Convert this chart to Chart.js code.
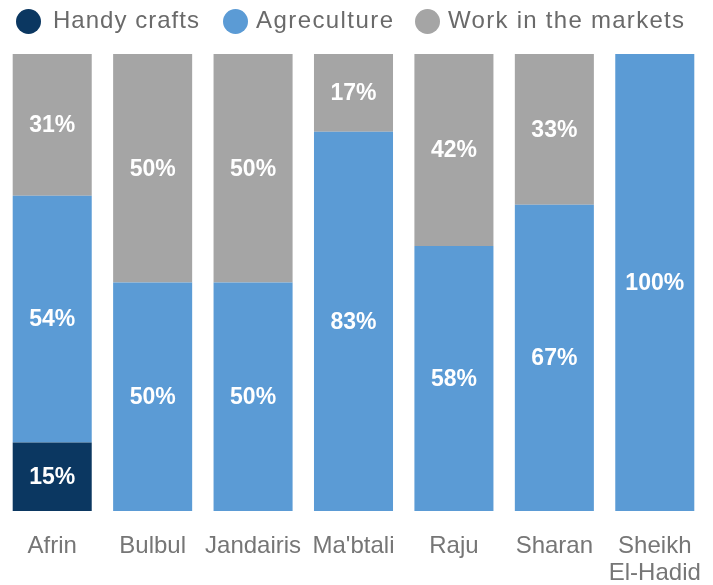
<!DOCTYPE html>
<html>
<head>
<meta charset="utf-8">
<script src="https://cdn.jsdelivr.net/npm/chart.js@4.4.1/dist/chart.umd.min.js"></script>
<style>
  html, body { margin: 0; padding: 0; background: #fff; }
  #wrap { position: relative; width: 713px; height: 585px; }
  #legend { position: absolute; left: 0; top: 0; width: 713px; height: 45px;
            font-family: 'Liberation Sans', Arial, sans-serif; font-size: 24px;
            line-height: 24px; color: #6a6a6a; white-space: nowrap; }
  .dot { position: absolute; top: 8.5px; width: 25px; height: 25px; border-radius: 50%; }
  .txt { position: absolute; top: 8px; }
  canvas { position: absolute; left: 0; top: 0; }
</style>
</head>
<body>
<div id="wrap">
  <canvas id="c" width="713" height="585"></canvas>
  <div id="legend"></div>
</div>
<script>
const categories = ['Afrin', 'Bulbul', 'Jandairis', "Ma'btali", 'Raju', 'Sharan', ['Sheikh', 'El-Hadid']];
const seriesNames = ['Handy crafts', 'Agreculture', 'Work in the markets'];
const handyCrafts = [15, 0, 0, 0, 0, 0, 0];
const agriculture = [54, 50, 50, 83, 58, 67, 100];
const markets = [31, 50, 50, 17, 42, 33, 0];
const colors = ['#0b3761', '#5b9bd5', '#a5a5a5'];

// legend row above the plot: marker left edge, text left edge, text span width
const legendLayout = [
  { dot: 15.5, text: 53, width: 146 },
  { dot: 223, text: 256, width: 137 },
  { dot: 415, text: 448, width: 236 }
];
const legendEl = document.getElementById('legend');
seriesNames.forEach((name, i) => {
  const pos = legendLayout[i];
  const dot = document.createElement('span');
  dot.className = 'dot';
  dot.style.left = pos.dot + 'px';
  dot.style.background = colors[i];
  const label = document.createElement('span');
  label.className = 'txt';
  label.style.left = pos.text + 'px';
  label.textContent = name;
  legendEl.appendChild(dot);
  legendEl.appendChild(label);
  // spread the letters so the label fills its span
  const chars = name.length - 1;
  const natural = label.getBoundingClientRect().width;
  label.style.letterSpacing = ((pos.width - natural) / chars) + 'px';
});

// percentage labels in the middle of each segment
const segmentLabels = {
  id: 'segmentLabels',
  afterDatasetsDraw(chart) {
    const ctx = chart.ctx;
    ctx.save();
    ctx.fillStyle = '#ffffff';
    ctx.font = 'bold 23px "Liberation Sans", Arial, sans-serif';
    ctx.textAlign = 'center';
    ctx.textBaseline = 'middle';
    chart.data.datasets.forEach((ds, di) => {
      const meta = chart.getDatasetMeta(di);
      meta.data.forEach((bar, i) => {
        const v = ds.data[i];
        if (!v) return;
        const p = bar.getProps(['x', 'y', 'base'], true);
        ctx.fillText(v + '%', p.x, (p.y + p.base) / 2 + 1);
      });
    });
    ctx.restore();
  }
};

new Chart(document.getElementById('c'), {
  type: 'bar',
  data: {
    labels: categories,
    datasets: [
      { label: seriesNames[0], data: handyCrafts, backgroundColor: colors[0] },
      { label: seriesNames[1], data: agriculture, backgroundColor: colors[1] },
      { label: seriesNames[2], data: markets, backgroundColor: colors[2] }
    ]
  },
  options: {
    responsive: false,
    animation: false,
    layout: { padding: { top: 54, left: 2, right: 8, bottom: 0 } },
    datasets: { bar: { categoryPercentage: 1, barPercentage: 0.787 } },
    plugins: { legend: { display: false }, tooltip: { enabled: false } },
    scales: {
      x: {
        stacked: true,
        grid: { display: false, drawTicks: false },
        border: { display: false },
        afterFit(scale) {
          scale.height = 74;
          scale.paddingLeft = 0;
          scale.paddingRight = 0;
        },
        ticks: {
          color: '#767676',
          padding: 22,
          maxRotation: 0,
          autoSkip: false,
          font: { family: '"Liberation Sans", Arial, sans-serif', size: 24, lineHeight: 1.12 }
        }
      },
      y: {
        stacked: true,
        display: false,
        min: 0,
        max: 100
      }
    }
  },
  plugins: [segmentLabels]
});
</script>
</body>
</html>
